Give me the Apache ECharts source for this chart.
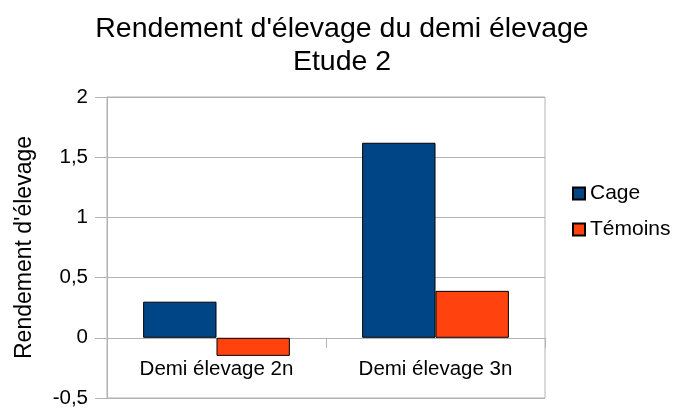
<!DOCTYPE html>
<html>
<head>
<meta charset="utf-8">
<script src="https://cdn.jsdelivr.net/npm/echarts@6/dist/echarts.min.js"></script>
<style>
  html, body { margin: 0; padding: 0; background: #fff; }
  #chart { width: 676px; height: 408px; }
</style>
</head>
<body>
<div id="chart"></div>
<script>
// data
const categories = ['Demi élevage 2n', 'Demi élevage 3n'];
const cage = [0.3, 1.62];
const temoins = [-0.15, 0.39];
const yTicks = { min: -0.5, max: 2, step: 0.5 };

const chart = echarts.init(document.getElementById('chart'));
const font = '"Liberation Sans", Arial, sans-serif';

// plot box, the x axis sits on the zero line
const gridTop = 97, gridBottom = 10, gridHeight = 408 - gridTop - gridBottom;
const zeroOffset = -gridHeight * (0 - yTicks.min) / (yTicks.max - yTicks.min);

let option = {
  animation: false,
  textStyle: { fontFamily: font, color: '#000' },
  title: {
    text: "Rendement d'élevage du demi élevage\nEtude 2",
    left: 337,
    top: 8,
    textAlign: 'center',
    textStyle: { fontFamily: font, fontSize: 28.5, fontWeight: 'normal', color: '#000', lineHeight: 33 }
  },
  legend: {
    orient: 'vertical',
    left: 567,
    top: 178,
    itemWidth: 12,
    itemHeight: 12,
    itemGap: 15,
    icon: 'rect',
    textStyle: { fontFamily: font, fontSize: 21, color: '#000' },
    data: ['Cage', 'Témoins']
  },
  grid: {
    left: 107,
    right: 131,
    top: gridTop,
    bottom: gridBottom,
    outerBoundsMode: 'none',
    show: true,
    borderColor: '#b3b3b3',
    borderWidth: 1
  },
  xAxis: {
    type: 'category',
    data: categories,
    offset: zeroOffset,
    axisLine: { show: true, onZero: false, lineStyle: { color: '#b3b3b3' } },
    axisTick: { show: true, length: 10, lineStyle: { color: '#b3b3b3' } },
    axisLabel: { fontFamily: font, fontSize: 20.5, color: '#000', margin: 21 }
  },
  yAxis: {
    type: 'value',
    min: yTicks.min,
    max: yTicks.max,
    interval: yTicks.step,
    name: "Rendement d'élevage",
    nameLocation: 'middle',
    nameGap: 71,
    nameTextStyle: { fontFamily: font, fontSize: 23, color: '#000' },
    axisLine: { show: true, lineStyle: { color: '#b3b3b3' } },
    axisTick: { show: true, length: 12, lineStyle: { color: '#b3b3b3' } },
    splitLine: { lineStyle: { color: '#b3b3b3' } },
    axisLabel: {
      fontFamily: font, fontSize: 20.5, color: '#000', margin: 19,
      formatter: v => String(v).replace('.', ',')
    }
  },
  series: [
    {
      name: 'Cage',
      type: 'bar',
      data: cage,
      barGap: '0%',
      barCategoryGap: '33%',
      itemStyle: { color: '#004586', borderColor: '#000', borderWidth: 1 }
    },
    {
      name: 'Témoins',
      type: 'bar',
      data: temoins,
      itemStyle: { color: '#ff420e', borderColor: '#000', borderWidth: 1 }
    }
  ]
};

chart.setOption(option);
</script>
</body>
</html>
